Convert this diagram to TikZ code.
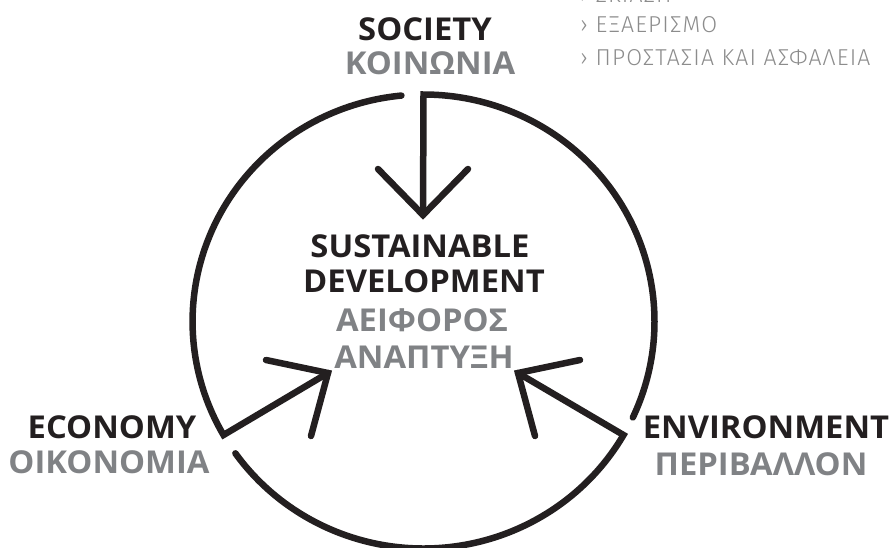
\documentclass[tikz,border=0pt]{standalone}
\usepackage{fontspec}
\setmainfont{Open Sans}[FakeStretch=1.04]
\newfontfamily\listfont{Fira Sans Light}[LetterSpace=5]
\definecolor{ink}{HTML}{231F20}
\definecolor{greytxt}{HTML}{808285}
\definecolor{listgrey}{HTML}{8C8C8C}
\begin{document}
\begin{tikzpicture}[x=1pt,y=-1pt,
  ring/.style={line width=6.5pt, draw=ink, line cap=round, line join=miter},
  en/.style={font=\bfseries\fontsize{31.5}{31.5}\selectfont, text=ink, anchor=base, inner sep=0pt},
  gr/.style={en, text=greytxt},
  li/.style={font=\listfont\fontsize{23}{23}\selectfont, text=listgrey, anchor=base west, inner sep=0pt}]
\useasboundingbox (0,0) rectangle (891,547);
% corners of the ring
\coordinate (ct) at (423.5,94.5);
\coordinate (cr) at (623.5,435);
\coordinate (cl) at (223.5,435);
% arrow tips and arms
\coordinate (tt) at (423,215);
\coordinate (ta1) at (378,169);
\coordinate (ta2) at (468,169);
\coordinate (tr) at (518,373);
\coordinate (ra1) at (580,360);
\coordinate (ra2) at (535,436);
\coordinate (tl) at (328,373);
\coordinate (la1) at (266,360);
\coordinate (la2) at (311,436);
% ring segments with shafts
\draw[ring] (tt) -- (ct) arc[start angle=-90, end angle=25, x radius=231, y radius=227];
\draw[ring] (tr) -- (cr) arc[start angle=30, end angle=144.5, x radius=231, y radius=227];
\draw[ring] (tl) -- (cl) arc[start angle=150, end angle=264.5, x radius=231, y radius=227];
% arrow heads
\draw[ring] (ta1) -- (tt) -- (ta2);
\draw[ring] (ra1) -- (tr) -- (ra2);
\draw[ring] (la1) -- (tl) -- (la2);
% labels
\node[en] (soc) at (425,40) {SOCIETY};
\node[gr] (koi) at (430,74.5) {ΚΟΙΝΩΝΙΑ};
\node[en] (sus) at (420,257) {SUSTAINABLE};
\node[en] (dev) at (424,292) {DEVELOPMENT};
\node[gr] (aei) at (422,331) {ΑΕΙΦΟΡΟΣ};
\node[gr] (ana) at (424,368) {ΑΝΑΠΤΥΞΗ};
\node[en] (eco) at (112,438) {ECONOMY};
\node[gr] (oik) at (109,473.5) {ΟΙΚΟΝΟΜΙΑ};
\node[en] (env) at (766,438) {ENVIRONMENT};
\node[gr] (per) at (761,475) {ΠΕΡΙΒΑΛΛΟΝ};
% list
\node[li] (l1) at (580,2) {› ΣΚΙΑΣΗ};
\node[li] (l2) at (580,32.5) {› ΕΞΑΕΡΙΣΜΟ};
\node[li] (l3) at (580,65) {› ΠΡΟΣΤΑΣΙΑ ΚΑΙ ΑΣΦΑΛΕΙΑ};
\end{tikzpicture}
\end{document}
